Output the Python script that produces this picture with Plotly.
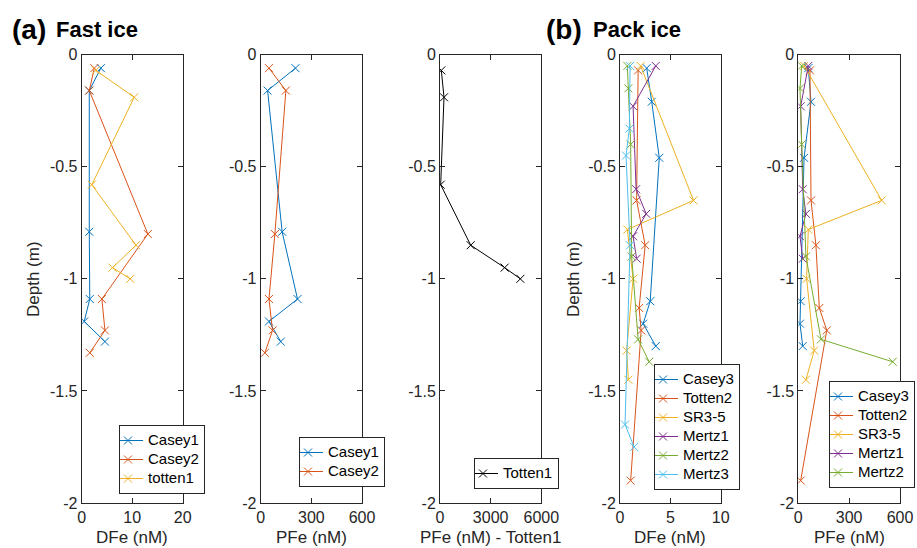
import plotly.graph_objects as go

# ---------------- data ----------------
# Fast ice
casey1_depth = [-0.06, -0.16, -0.79, -1.09, -1.19, -1.28]
casey1_dfe = [3.8, 1.5, 1.5, 1.6, 0.5, 4.6]
casey1_pfe = [206, 41, 127, 218, 49, 119]

casey2_depth = [-0.06, -0.16, -0.80, -1.09, -1.23, -1.33]
casey2_dfe = [2.5, 1.5, 13.1, 4.0, 4.6, 1.6]
casey2_pfe = [49, 149, 84, 49, 70, 25]

totten1_depth = [-0.07, -0.19, -0.58, -0.85, -0.95, -1.00]
totten1_dfe = [2.8, 10.4, 2.0, 10.75, 6.1, 9.6]
totten1_pfe = [78, 237, 40, 1818, 3830, 4760]

# Pack ice
casey3_depth = [-0.06, -0.21, -0.46, -1.10, -1.20, -1.30]
casey3_dfe = [2.65, 3.15, 3.9, 3.0, 2.3, 3.55]
casey3_pfe = [59, 75, 34, 14, 10, 26]

totten2_depth = [-0.07, -0.65, -0.85, -1.13, -1.23, -1.90]
totten2_dfe = [1.8, 1.65, 2.5, 1.9, 2.1, 1.06]
totten2_pfe = [69, 75, 104, 124, 168, 14]

sr35_depth = [-0.05, -0.65, -0.78, -1.00, -1.32, -1.45]
sr35_dfe = [2.05, 7.3, 0.73, 1.3, 0.66, 0.83]
sr35_pfe = [35, 492, 59, 49, 94, 45]

mertz1_depth = [-0.05, -0.23, -0.60, -0.71, -0.81, -0.91]
mertz1_dfe = [3.55, 1.3, 1.6, 2.6, 1.3, 1.65]
mertz1_pfe = [59, 14, 26, 45, 10, 26]

mertz2_depth = [-0.05, -0.15, -0.40, -0.90, -1.27, -1.37]
mertz2_dfe = [0.73, 0.83, 1.06, 1.16, 1.8, 2.9]
mertz2_pfe = [20, 10, 20, 45, 134, 557]

mertz3_depth = [-0.05, -0.33, -0.45, -0.85, -1.65, -1.75]
mertz3_dfe = [1.0, 0.93, 0.6, 1.0, 0.5, 1.4]

y_ticks = [0, -0.5, -1, -1.5, -2]
y_ticktext = ["0", "-0.5", "-1", "-1.5", "-2"]
x_ticks = [[0, 10, 20], [0, 300, 600], [0, 3000, 6000], [0, 5, 10], [0, 300, 600]]
x_ranges = [[0, 20], [0, 600], [0, 6000], [0, 10], [0, 600]]
x_labels = ["DFe (nM)", "PFe (nM)", "PFe (nM) - Totten1", "DFe (nM)", "PFe (nM)"]

C = ["#0072BD", "#D95319", "#EDB120", "#7E2F8E", "#77AC30", "#4DBEEE"]

# ---------------- layout geometry ----------------
W, H = 917, 548
FONT = "Liberation Sans, Arial, Helvetica, sans-serif"
TXT = "#262626"
x_px = [(81.7, 182.7), (260.7, 362.0), (440.0, 541.3), (620.0, 720.7), (798.3, 900.0)]
y_px = (54.7, 503.0)

fig = go.Figure()

def add(panel, name, x, y, color, legend):
    xa = "x" if panel == 1 else f"x{panel}"
    ya = "y" if panel == 1 else f"y{panel}"
    fig.add_trace(go.Scatter(
        x=x, y=y, name=f'<span style="font-size:15px">{name}</span>', mode="lines+markers",
        line=dict(color=color, width=1),
        marker=dict(symbol="x-thin", size=8, color=color, line=dict(color=color, width=1)),
        xaxis=xa, yaxis=ya, legend=legend,
    ))

add(1, "Casey1", casey1_dfe, casey1_depth, C[0], "legend")
add(1, "Casey2", casey2_dfe, casey2_depth, C[1], "legend")
add(1, "totten1", totten1_dfe, totten1_depth, C[2], "legend")

add(2, "Casey1", casey1_pfe, casey1_depth, C[0], "legend2")
add(2, "Casey2", casey2_pfe, casey2_depth, C[1], "legend2")

add(3, "Totten1", totten1_pfe, totten1_depth, "#000000", "legend3")

add(4, "Casey3", casey3_dfe, casey3_depth, C[0], "legend4")
add(4, "Totten2", totten2_dfe, totten2_depth, C[1], "legend4")
add(4, "SR3-5", sr35_dfe, sr35_depth, C[2], "legend4")
add(4, "Mertz1", mertz1_dfe, mertz1_depth, C[3], "legend4")
add(4, "Mertz2", mertz2_dfe, mertz2_depth, C[4], "legend4")
add(4, "Mertz3", mertz3_dfe, mertz3_depth, C[5], "legend4")

add(5, "Casey3", casey3_pfe, casey3_depth, C[0], "legend5")
add(5, "Totten2", totten2_pfe, totten2_depth, C[1], "legend5")
add(5, "SR3-5", sr35_pfe, sr35_depth, C[2], "legend5")
add(5, "Mertz1", mertz1_pfe, mertz1_depth, C[3], "legend5")
add(5, "Mertz2", mertz2_pfe, mertz2_depth, C[4], "legend5")

layout = dict(
    width=W, height=H, margin=dict(l=0, r=0, t=0, b=0),
    paper_bgcolor="white", plot_bgcolor="white",
    font=dict(family=FONT, size=16, color=TXT),
    showlegend=True,
)

ydom = [(H - y_px[1]) / H, (H - y_px[0]) / H]
for i in range(5):
    k = "" if i == 0 else str(i + 1)
    layout["xaxis" + k] = dict(
        domain=[x_px[i][0] / W, x_px[i][1] / W], range=x_ranges[i],
        tickvals=x_ticks[i], ticktext=[str(v) for v in x_ticks[i]],
        ticks="inside", ticklen=5, tickcolor=TXT, tickwidth=1,
        showline=True, linecolor=TXT, linewidth=1, mirror="ticks",
        showgrid=False, zeroline=False, anchor="y" + k, automargin=False,
        tickfont=dict(size=16, color=TXT, family=FONT),
    )
    layout["yaxis" + k] = dict(
        domain=ydom, range=[-2, 0],
        tickvals=y_ticks, ticktext=y_ticktext,
        ticks="inside", ticklen=5, tickcolor=TXT, tickwidth=1,
        showline=True, linecolor=TXT, linewidth=1, mirror="ticks",
        showgrid=False, zeroline=False, anchor="x" + k, automargin=False,
        tickfont=dict(size=16, color=TXT, family=FONT),
    )

def leg(right_px, bottom_px):
    return dict(
        x=right_px / W, y=(H - bottom_px) / H, xanchor="right", yanchor="bottom",
        bgcolor="white", bordercolor=TXT, borderwidth=1,
        font=dict(size=12.3, color="#000000", family=FONT),
        itemwidth=30, tracegroupgap=0, itemclick=False, indentation=-12,
    )

layout["legend"] = leg(205, 494)
layout["legend2"] = leg(385, 487)
layout["legend3"] = leg(559, 489)
layout["legend4"] = leg(740, 490)
layout["legend5"] = leg(915, 488)

fig.update_layout(**layout)

ann = []
for i in range(5):
    cx = (x_px[i][0] + x_px[i][1]) / 2
    ann.append(dict(text=x_labels[i], x=cx / W, y=(H - 537) / H, xref="paper", yref="paper",
                    showarrow=False, xanchor="center", yanchor="middle",
                    font=dict(size=17, color=TXT, family=FONT)))
for px in (33, 573):
    ann.append(dict(text="Depth (m)", x=px / W, y=(H - 279) / H, xref="paper", yref="paper",
                    showarrow=False, textangle=-90, xanchor="center", yanchor="middle",
                    font=dict(size=17, color=TXT, family=FONT)))
ann.append(dict(text="<b>(a)</b>", x=10 / W, y=(H - 29) / H, xref="paper", yref="paper",
                showarrow=False, xanchor="left", yanchor="middle",
                font=dict(size=28, color="#000000", family=FONT)))
ann.append(dict(text="<b>Fast ice</b>", x=54 / W, y=(H - 30) / H, xref="paper", yref="paper",
                showarrow=False, xanchor="left", yanchor="middle",
                font=dict(size=22, color="#000000", family=FONT)))
ann.append(dict(text="<b>(b)</b>", x=544 / W, y=(H - 29) / H, xref="paper", yref="paper",
                showarrow=False, xanchor="left", yanchor="middle",
                font=dict(size=28, color="#000000", family=FONT)))
ann.append(dict(text="<b>Pack ice</b>", x=591 / W, y=(H - 30) / H, xref="paper", yref="paper",
                showarrow=False, xanchor="left", yanchor="middle",
                font=dict(size=22, color="#000000", family=FONT)))
fig.update_layout(annotations=ann)

fig.write_html("out.html")
